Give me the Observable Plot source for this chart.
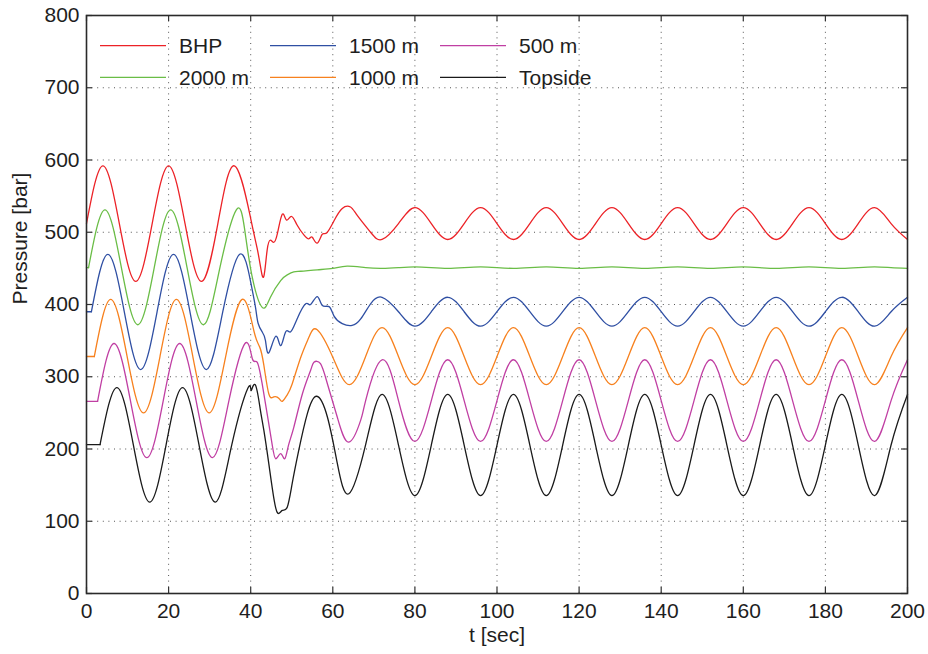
<!DOCTYPE html>
<html><head><meta charset="utf-8">
<script src="https://cdn.jsdelivr.net/npm/d3@7"></script>
<script src="https://cdn.jsdelivr.net/npm/@observablehq/plot@0.6"></script>
<style>body{margin:0;background:#fff}#chart svg{display:block}</style>
</head><body><div id="chart"></div>
<script>
// ---- data ----
const seriesNames = ["BHP", "2000 m", "1500 m", "1000 m", "500 m", "Topside"];
const xTicks = [0, 20, 40, 60, 80, 100, 120, 140, 160, 180, 200];
const yTicks = [0, 100, 200, 300, 400, 500, 600, 700, 800];

const steadyTimes = [72,76,80,84,88,92,96,100,104,108,112,116,120,124,128,132,136,140,144,148,152,156,160,164,168,172,176,180,184,188,192,196,200];

const tBHP = [0,4,8,12,16,20,24,28,32,36,40,41.6,42.4,43.2,44,44.8,45.6,46.5,47.7,48.7,49.9,51.3,53,54.2,55,56.2,57.4,58.5,60.3,62.3,64.3,66,69.2];
const vBHP = [512,592,512,432,512,592,512,432,512,592,519,477,452,439,475,489,486,498,525,517,522,510,496,491,493,485,497,499,516,533,535,523,500];
const sBHP = [490,512,534,512,490,512,534,512,490,512,534,512,490,512,534,512,490,512,534,512,490,512,534,512,490,512,534,512,490,512,534,512,490];

const t2000 = [0,0.5,4.5,8.5,12.5,16.5,20.5,24.5,28.5,32.5,36.5,38.5,40.3,42.8,44.8,47.3,48.9,50.5,52.2,56.2,60,63.5,68];
const v2000 = [451,451,531,451,372,451,531,451,372,451,531,505,440,396,410,433,441,445,446,448,450,453,451];
const s2000 = [450,451,452,451,450,451,452,451,450,451,452,451,450,451,452,451,450,451,452,451,450,451,452,451,450,451,452,451,450,451,452,451,450];

const t1500 = [0,1.2,5.2,9.2,13.2,17.2,21.2,25.2,29.2,33.2,37.3,40,41.2,41.8,42.8,43.6,44.4,46.1,47.3,48.5,49.7,51.3,53.4,54.6,56.2,57.4,59.1,60.3,62.3,64.7,66.8,69.2];
const v1500 = [390,390,469.5,390,310,390,469.5,390,310,390,469.5,431,395,374,362,350,333,356,343,362,362,380,401,400,411,399,397,384,373.5,371,380,401];
const s1500 = [410,390,370,390,410,390,370,390,410,390,370,390,410,390,370,390,410,390,370,390,410,390,370,390,410,390,370,390,410,390,370,390,410];

const t1000 = [0,1.9,5.9,9.9,13.9,17.9,21.9,25.9,29.9,33.9,37.9,40.8,42.2,43.2,44.4,45.6,46.9,47.7,48.9,50.1,52.2,54.2,56.2,60,64,68];
const v1000 = [328,328,407,328,250,328,407,328,250,328,407,363,341,316,276.5,272,270,266,275,290,327,355,365,327,289,328];
const s1000 = [368,328,289,328,368,328,289,328,368,328,289,328,368,328,289,328,368,328,289,328,368,328,289,328,368,328,289,328,368,328,289,328,368];

const t500 = [0,2.7,6.7,10.7,14.7,18.7,22.7,26.7,30.7,34.7,38.6,40.4,41.6,42.8,44,45.2,46.1,47.3,48.3,49.2,50.5,52.6,54.6,55.4,57,58.7,61.1,63.9,66.8,68];
const v500 = [266,266,346,267,188,267,346,267,188,267,346,325,320,290,249,207,186.5,193.5,186.5,205,230,276.5,309,320,318,290,244,209.5,240,267];
const s500 = [323.5,267,210.5,267,323.5,267,210.5,267,323.5,267,210.5,267,323.5,267,210.5,267,323.5,267,210.5,267,323.5,267,210.5,267,323.5,267,210.5,267,323.5,267,210.5,267,323.5];

const tTop = [0,3.3,7.4,11.4,15.4,19.4,23.4,27.4,31.4,35.4,39.3,40.1,41.1,42.3,43.2,44.4,45.6,46.6,47.7,48.9,50.1,51.7,53.8,56.1,58.7,61.1,63.9,68];
const vTop = [206,206,285,206,126.5,206,285,206,126.5,206,284,281,289,256,226,180,133,111,115,119.5,152,198,249,273,244,180,138,206];
const sTop = [275.5,205.5,135.5,205.5,275.5,205.5,135.5,205.5,275.5,205.5,135.5,205.5,275.5,205.5,135.5,205.5,275.5,205.5,135.5,205.5,275.5,205.5,135.5,205.5,275.5,205.5,135.5,205.5,275.5,205.5,135.5,205.5,275.5];

// ---- build table ----
// A series that starts with a flat stretch (first two values equal) gets that
// stretch as its own straight segment; the oscillation is a smooth curve after it.
const seriesT = [tBHP, t2000, t1500, t1000, t500, tTop];
const seriesV = [vBHP, v2000, v1500, v1000, v500, vTop];
const seriesS = [sBHP, s2000, s1500, s1000, s500, sTop];
const rows = [];
seriesNames.forEach((name, k) => {
  const ts = seriesT[k].concat(steadyTimes);
  const vs = seriesV[k].concat(seriesS[k]);
  const flat = vs[0] === vs[1];
  ts.forEach((t, i) => {
    if (flat && i <= 1) rows.push({name, seg: name + "-flat", t, p: vs[i]});
    if (!flat || i >= 1) rows.push({name, seg: name + "-main", t, p: vs[i]});
  });
});

// ---- styles ----
const colors = ["#ec2227", "#6abd46", "#2f4fa3", "#f7811e", "#c03fa3", "#1a1a1a"];
const W = 928, H = 654, ML = 86, MR = 21, MT = 15, MB = 61;
const FW = W - ML - MR, FH = H - MT - MB;
const font = "'Liberation Sans', Arial, Helvetica, sans-serif";
const FS = 21;
const gridStyle = {stroke: "#555", strokeOpacity: 1, strokeWidth: 1, strokeDasharray: "1,4.6"};

const chart = Plot.plot({
  width: W, height: H,
  marginLeft: ML, marginRight: MR, marginTop: MT, marginBottom: MB,
  style: {fontFamily: font, fontSize: FS + "px", color: "#1e1e1e", background: "#fff"},
  x: {domain: [0, 200]},
  y: {domain: [0, 800]},
  color: {domain: seriesNames, range: colors},
  marks: [
    Plot.gridX(xTicks, gridStyle),
    Plot.gridY(yTicks, gridStyle),
    Plot.line(rows, {x: "t", y: "p", z: "seg", stroke: "name", curve: "natural", strokeWidth: 1.3}),
    Plot.ruleX(xTicks, {x: d => d, insetTop: FH - 6, stroke: "#333", strokeWidth: 1.2}),
    Plot.ruleX(xTicks, {x: d => d, insetBottom: FH - 6, stroke: "#333", strokeWidth: 1.2}),
    Plot.ruleY(yTicks, {y: d => d, insetRight: FW - 6, stroke: "#333", strokeWidth: 1.2}),
    Plot.ruleY(yTicks, {y: d => d, insetLeft: FW - 6, stroke: "#333", strokeWidth: 1.2}),
    Plot.frame({stroke: "#2a2a2a", strokeWidth: 1.6}),
    Plot.axisX(xTicks, {tickSize: 0, tickPadding: 10, label: null, fill: "#1e1e1e"}),
    Plot.axisY(yTicks, {tickSize: 0, tickPadding: 7, label: null, fill: "#1e1e1e"}),
    Plot.text(["t [sec]"], {frameAnchor: "bottom", dy: 48, fill: "#1e1e1e", fontSize: FS}),
    Plot.text(["Pressure [bar]"], {frameAnchor: "left", dx: -66, rotate: -90, fill: "#1e1e1e", fontSize: FS})
  ]
});
document.getElementById("chart").appendChild(chart);

// ---- legend (inside the plot, top-left, 3 columns x 2 rows) ----
const svg = d3.select(chart);
const lg = svg.append("g").attr("font-family", font).attr("font-size", FS)
  .attr("fill", "#1e1e1e").attr("text-anchor", "start");
seriesNames.forEach((name, i) => {
  const col = Math.floor(i / 2), row = i % 2;
  const x0 = 100 + col * 170, y0 = 45.7 + row * 31.6;
  lg.append("line").attr("x1", x0).attr("x2", x0 + 66).attr("y1", y0).attr("y2", y0)
    .attr("stroke", colors[i]).attr("stroke-width", 1.3);
  lg.append("text").attr("x", x0 + 79).attr("y", y0).attr("dy", "0.36em")
    .attr("text-anchor", "start").text(name);
});
</script>
</body></html>
